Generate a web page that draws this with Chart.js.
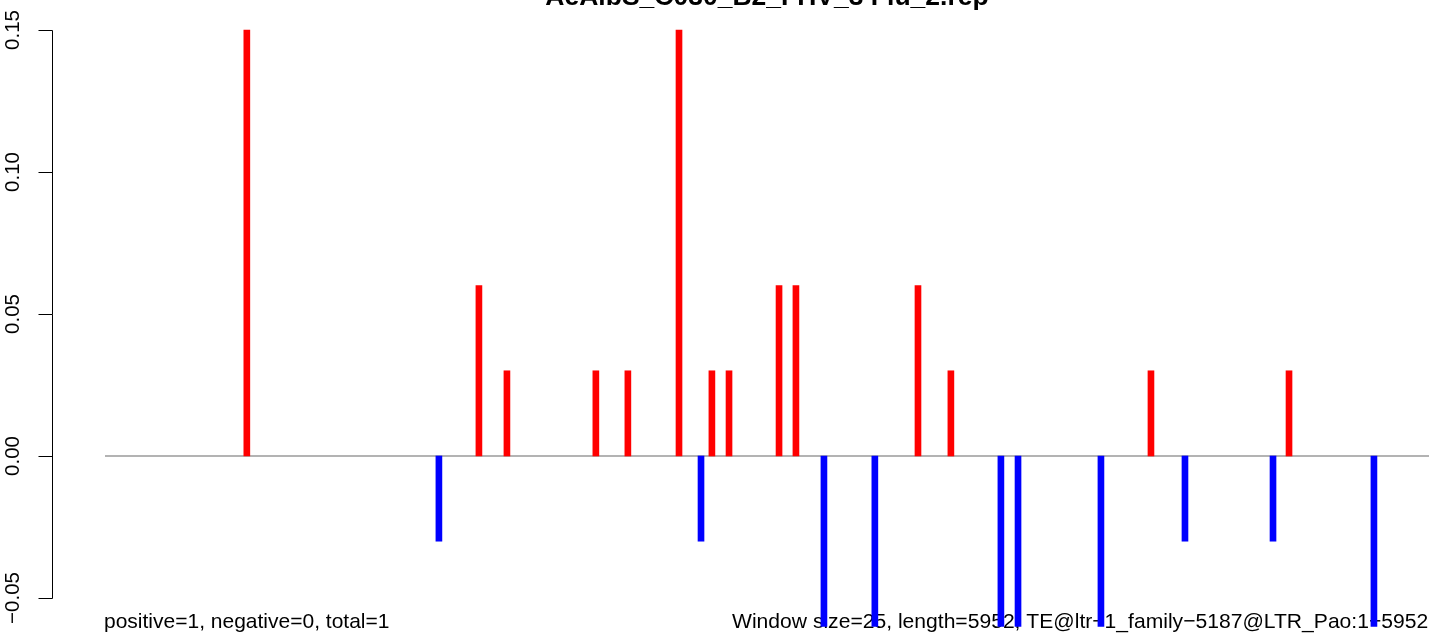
<!DOCTYPE html>
<html>
<head>
<meta charset="utf-8">
<script src="https://cdn.jsdelivr.net/npm/chart.js@4"></script>
<style>
  html, body { margin: 0; padding: 0; background: #ffffff; }
  #wrap { width: 1429px; height: 634px; position: relative; }
</style>
</head>
<body>
<div id="wrap"><canvas id="c" width="1429" height="634"></canvas></div>
<script>
// ---- data ----
const titleText = "AeAlbS_C030_B2_FHV_3 Flu_2.rep";
const leftNote = "positive=1, negative=0, total=1";
const rightNote = "Window size=25, length=5952, TE@ltr\u22121_family\u22125187@LTR_Pao:1\u22125952";
const seqLength = 5952;
const xMin = -237.4;
const xMax = 5956.7;

const posPositions = [639, 1683, 1809, 2209, 2353, 2583, 2731, 2808, 3033, 3109, 3658, 3806, 4706, 5327];
const posValues    = [0.15, 0.06, 0.03, 0.03, 0.03, 0.15, 0.03, 0.03, 0.06, 0.06, 0.06, 0.03, 0.03, 0.03];
const negPositions = [1503, 2682, 3235, 3464, 4031, 4108, 4481, 4859, 5255, 5709];
const negValues    = [-0.03, -0.03, -0.06, -0.06, -0.06, -0.06, -0.06, -0.03, -0.03, -0.06];
const yTicks = [-0.05, 0.00, 0.05, 0.10, 0.15];
const yTickLabels = ["\u22120.05", "0.00", "0.05", "0.10", "0.15"];

const FONT = "'Liberation Sans', Arial, Helvetica, sans-serif";

const toPoints = (xs, ys) => xs.map((x, i) => ({ x: x, y: ys[i] }));

const decor = {
  id: 'decor',
  beforeDatasetsDraw(chart) {
    const ctx = chart.ctx;
    const y = chart.scales.y;
    const ca = chart.chartArea;
    ctx.save();
    // title (clipped at the top like the reference)
    ctx.fillStyle = '#000';
    ctx.font = 'bold 26.5px ' + FONT;
    ctx.textAlign = 'center';
    ctx.textBaseline = 'alphabetic';
    ctx.fillText(titleText, 767, 5);
    // bottom notes
    ctx.font = '21px ' + FONT;
    ctx.textAlign = 'left';
    ctx.fillText(leftNote, 104, 628);
    ctx.font = '21.1px ' + FONT;
    ctx.fillText(rightNote, 732, 628);
    // y axis
    ctx.strokeStyle = '#000';
    ctx.lineWidth = 1;
    const ax = ca.left + 0.5;
    const yTop = Math.round(y.getPixelForValue(yTicks[yTicks.length - 1])) + 0.5;
    const yBot = Math.round(y.getPixelForValue(yTicks[0])) + 0.5;
    ctx.beginPath();
    ctx.moveTo(ax, yTop);
    ctx.lineTo(ax, yBot);
    yTicks.forEach(v => {
      const py = Math.round(y.getPixelForValue(v)) + 0.5;
      ctx.moveTo(ax, py);
      ctx.lineTo(ax - 14, py);
    });
    ctx.stroke();
    ctx.font = '20.5px ' + FONT;
    ctx.textAlign = 'center';
    ctx.textBaseline = 'middle';
    yTicks.forEach((v, i) => {
      const py = y.getPixelForValue(v);
      ctx.save();
      ctx.translate(13, py);
      ctx.rotate(-Math.PI / 2);
      ctx.fillText(yTickLabels[i], 0, 0);
      ctx.restore();
    });
    ctx.restore();
  }
};

new Chart(document.getElementById('c'), {
  type: 'bar',
  data: {
    datasets: [
      {
        type: 'line',
        data: [{ x: 1, y: 0 }, { x: xMax, y: 0 }],
        borderColor: '#9a9a9a',
        borderWidth: 1.5,
        pointRadius: 0,
        order: 3
      },
      {
        data: toPoints(posPositions, posValues),
        backgroundColor: '#ff0000',
        borderWidth: 0,
        barThickness: 6,
        grouped: false,
        order: 1
      },
      {
        data: toPoints(negPositions, negValues),
        backgroundColor: '#0000ff',
        borderWidth: 0,
        barThickness: 6,
        grouped: false,
        order: 1
      }
    ]
  },
  options: {
    responsive: false,
    animation: false,
    events: [],
    layout: { padding: { left: 52, top: 6, right: 0, bottom: 0 } },
    plugins: { legend: { display: false }, tooltip: { enabled: false }, title: { display: false } },
    scales: {
      x: { type: 'linear', min: xMin, max: xMax, offset: false, display: false, grid: { display: false } },
      y: { type: 'linear', min: -0.06268, max: 0.15845, display: false, grid: { display: false } }
    }
  },
  plugins: [decor]
});
</script>
</body>
</html>
